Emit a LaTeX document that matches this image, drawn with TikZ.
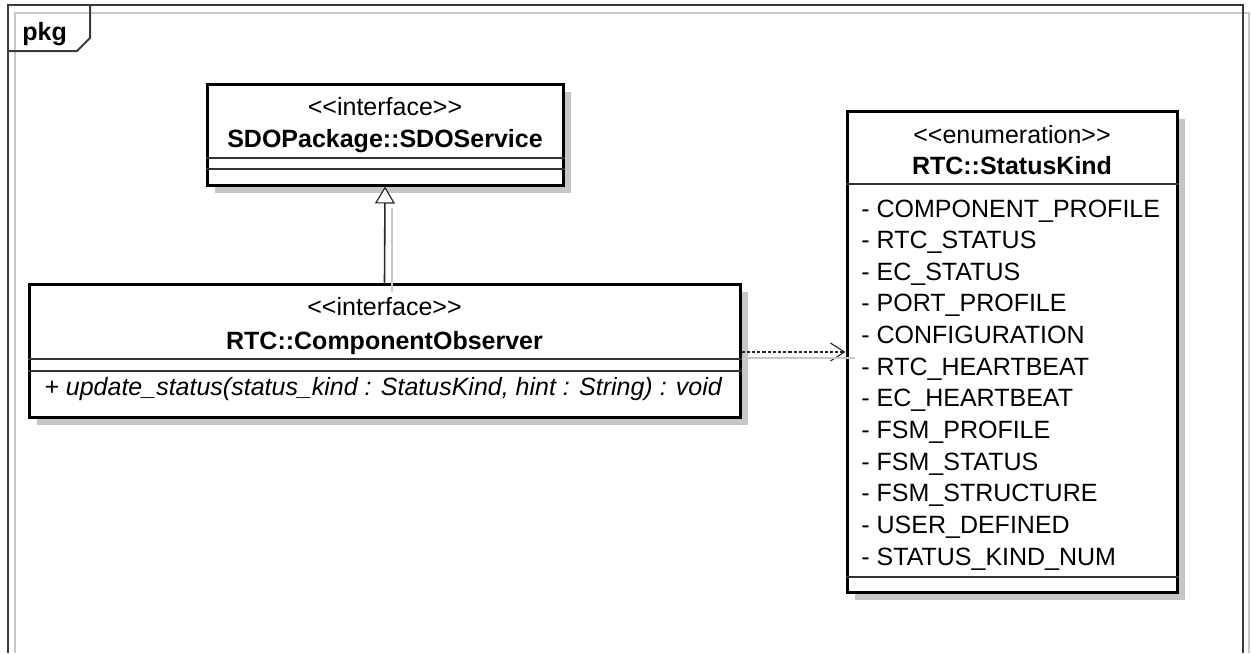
\documentclass[tikz,border=0pt]{standalone}
\usepackage{fontspec}
\setmainfont{Liberation Sans}
\usetikzlibrary{arrows.meta,calc}
\definecolor{shadowgray}{HTML}{C6C6C6}
\definecolor{framegray}{HTML}{3A3A3A}
\definecolor{cshadowgray}{HTML}{C8C8C8}
\newcommand{\gl}{<\kern0pt<}
\newcommand{\gr}{>\kern0pt>}
\begin{document}
\begin{tikzpicture}[x=0.5pt,y=-0.5pt,
  umlbox/.style={draw=black, line width=1.5pt, fill=white, inner sep=0pt,
    preaction={fill=shadowgray, transform canvas={xshift=3.8pt,yshift=-4pt}}},
  divider/.style={draw=black!80, line width=0.65pt},
  txt/.style={inner sep=0pt, font=\fontsize{12.5}{15}\selectfont},
  frameline/.style={draw=framegray, line width=1pt},
  fshadow/.style={draw=cshadowgray, line width=0.8pt},
  gen/.style={draw=black!85, line width=0.8pt, -{Triangle[open, length=8.5pt, width=10pt, line width=0.6pt, fill=white]}},
  dep/.style={draw=black!85, line width=0.55pt, dash pattern=on 1.6pt off 1pt, -{Straight Barb[length=7pt, width=9pt, line width=0.55pt]}},
  cshadow/.style={draw=cshadowgray, line width=0.6pt}]
\useasboundingbox (0,0) rectangle (1251,653);
\fill[white] (0,0) rectangle (1251,653);
% frame shadow and frame
\draw[fshadow] (15,653) -- (15,13) -- (1249,13) -- (1249,653);
\draw[frameline] (8,653) -- (8,5) -- (1243,5) -- (1243,653);
\draw[frameline] (8,51) -- (77,51) -- (90,38) -- (90,5);
\node[txt, anchor=base west, font=\fontsize{12.5}{15}\selectfont\bfseries] (pkg) at (22,40) {pkg};
% boxes
\node[umlbox, minimum width=178pt, minimum height=50.5pt] (sdo) at (385,134.5) {};
\node[umlbox, minimum width=355.5pt, minimum height=66.5pt] (co) at (384.5,350.5) {};
\node[umlbox, minimum width=165pt, minimum height=240.5pt] (sk) at (1012,351.5) {};
% SDOService
\node[txt, anchor=base] (sdoSt) at (385,115) {\gl interface\gr};
\node[txt, anchor=base, font=\fontsize{12.5}{15}\selectfont\bfseries] (sdoN) at (385,147) {SDOPackage::SDOService};
\draw[divider] (sdo.west |- 0,158) -- (sdo.east |- 0,158);
\draw[divider] (sdo.west |- 0,169) -- (sdo.east |- 0,169);
% ComponentObserver
\node[txt, anchor=base] (coSt) at (384.5,315) {\gl interface\gr};
\node[txt, anchor=base, font=\fontsize{12.5}{15}\selectfont\bfseries] (coN) at (384.5,349) {RTC::ComponentObserver};
\draw[divider] (co.west |- 0,359) -- (co.east |- 0,359);
\draw[divider] (co.west |- 0,371) -- (co.east |- 0,371);
\node[txt, anchor=base west, font=\fontsize{12.5}{15}\selectfont\itshape] (coM) at (44,395) {+ update\_status(status\_kind : StatusKind, hint : String) : void};
% StatusKind
\node[txt, anchor=base] (skSt) at (1012,143) {\gl enumeration\gr};
\node[txt, anchor=base, font=\fontsize{12.5}{15}\selectfont\bfseries] (skN) at (1012,174) {RTC::StatusKind};
\draw[divider] (sk.west |- 0,184) -- (sk.east |- 0,184);
\draw[divider] (sk.west |- 0,577) -- (sk.east |- 0,577);
\foreach \t [count=\i from 0] in {COMPONENT\_PROFILE, RTC\_STATUS, EC\_STATUS, PORT\_PROFILE, CONFIGURATION, RTC\_HEARTBEAT, EC\_HEARTBEAT, FSM\_PROFILE, FSM\_STATUS, FSM\_STRUCTURE, USER\_DEFINED, STATUS\_KIND\_NUM}
  \node[txt, anchor=base west] (item\i) at (861,{217+31.64*\i}) {- \t};
% connectors
\draw[gen] (co.north) -- (sdo.south);
\draw[dep] (co.east |- 0,352) -- (sk.west |- 0,352);
% connector shadows
\coordinate (gs1) at (392,208);
\coordinate (gs2) at (392,292);
\coordinate (ds1) at (748,358);
\coordinate (ds2) at (855,358);
\draw[cshadow] (gs1) -- (gs2);
\draw[cshadow] (ds1) -- (ds2);
\end{tikzpicture}
\end{document}
